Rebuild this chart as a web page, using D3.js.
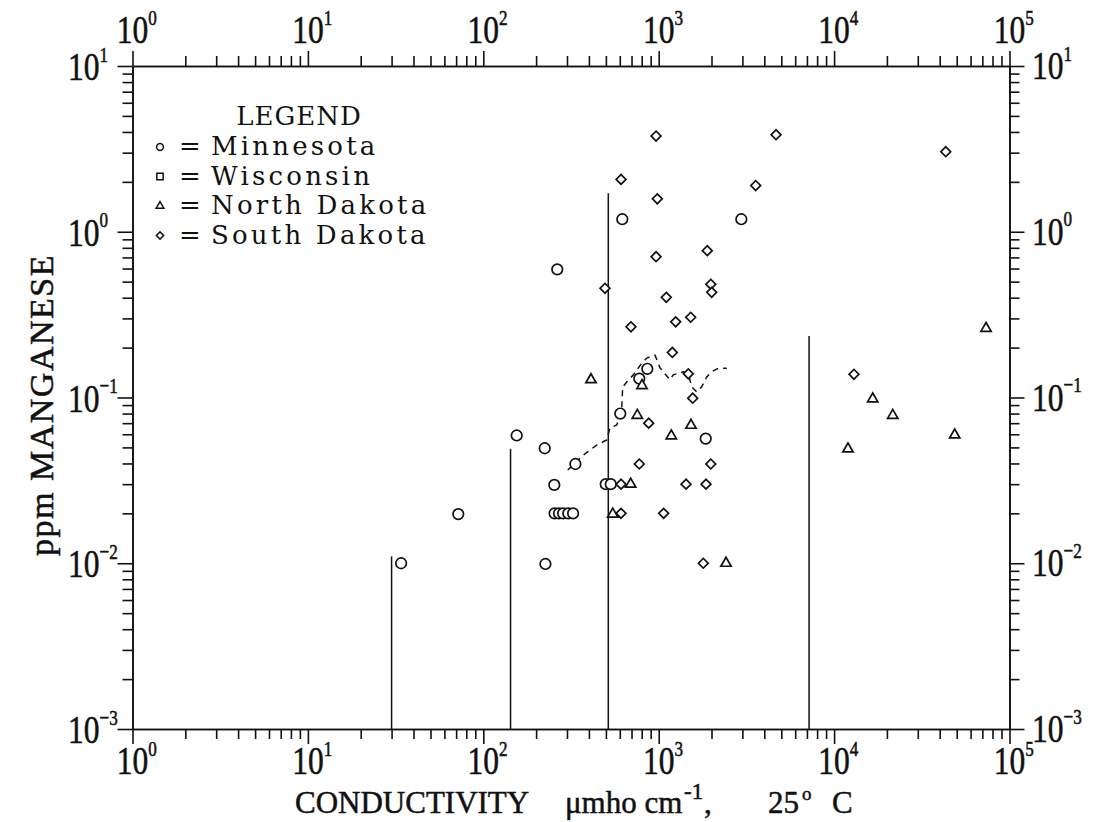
<!DOCTYPE html>
<html>
<head>
<meta charset="utf-8">
<script src="https://cdn.jsdelivr.net/npm/d3@7"></script>
<style>
  body { margin: 0; background: #fff; }
  svg { display: block; }
  .ax path, .ax line { stroke: #111; stroke-width: 1.6; }
</style>
</head>
<body>
<div id="chart"></div>
<script>
// conductivity (umho/cm) and manganese (ppm)
const minnesotaX = [620, 2958, 264, 861, 775, 604, 1854, 155, 224, 335, 254, 499, 533, 72, 255, 270, 285, 305, 325, 226, 34]
const minnesotaY = [1.19, 1.19, 0.593, 0.149, 0.130, 0.080, 0.0565, 0.059, 0.0494, 0.0397, 0.0297, 0.03, 0.03, 0.0198, 0.02, 0.02, 0.02, 0.02, 0.02, 0.0099, 0.01]

const wisconsinX = []
const wisconsinY = []

const northDakotaX = [411, 803, 755, 1528, 1180, 692, 547, 2419, 73500, 16600, 21600, 48700, 12000]
const northDakotaY = [0.128, 0.118, 0.078, 0.068, 0.0586, 0.03, 0.0198, 0.01, 0.261, 0.098, 0.078, 0.0594, 0.0489]

const southDakotaX = [966, 610, 3573, 982, 966, 1892, 494, 1982, 2005, 1105, 1522, 1250, 695, 1196, 1475, 1563, 877, 775, 1982, 610, 1432, 1861, 610, 1067, 1796, 4667, 43300, 12980]
const southDakotaY = [3.78, 2.07, 1.9, 1.58, 0.707, 0.769, 0.456, 0.482, 0.431, 0.402, 0.305, 0.286, 0.267, 0.187, 0.139, 0.099, 0.070, 0.0397, 0.0397, 0.03, 0.03, 0.03, 0.02, 0.02, 0.01, 3.85, 3.04, 0.138]

// dashed running curve
const dashX = [303, 372, 443, 505, 527, 576, 602, 615, 623, 657, 717, 800, 855, 953, 1017, 1159, 1211, 1381, 1475, 1542, 1648, 1759, 1879, 2005, 2188, 2442]
const dashY = [0.0365, 0.045, 0.0516, 0.0554, 0.0655, 0.0682, 0.0762, 0.0841, 0.1156, 0.124, 0.137, 0.161, 0.173, 0.180, 0.151, 0.128, 0.137, 0.143, 0.139, 0.116, 0.108, 0.116, 0.133, 0.143, 0.150, 0.150]

// vertical reference lines
const refX = [30, 143, 516, 7200]
const refTop = [0.011, 0.049, 1.71, 0.235]

const xDecades = [1, 10, 100, 1000, 10000, 100000]
const xExp = ["0", "1", "2", "3", "4", "5"]
const yDecades = [0.001, 0.01, 0.1, 1, 10]
const yExp = ["\u22123", "\u22122", "\u22121", "0", "1"]

const legendNames = ["Minnesota", "Wisconsin", "North Dakota", "South Dakota"]

const W = 1099, H = 822
const L = 132.5, R = 1009.5, T = 66, B = 729
const serif = "'Liberation Serif', 'Times New Roman', serif"

const svg = d3.select('#chart').append('svg').attr('width', W).attr('height', H)

const x = d3.scaleLog().domain([1, 1e5]).range([L, R])
const y = d3.scaleLog().domain([1e-3, 10]).range([B, T])

const minorOf = decades => {
  const out = []
  decades.slice(0, -1).forEach(d => { for (let k = 2; k <= 9; k++) out.push(d * k) })
  return out
}
const xMinor = minorOf(xDecades)
const yMinor = minorOf(yDecades)

const axes = [
  [d3.axisBottom(x), `translate(0,${B})`, xDecades, xMinor],
  [d3.axisTop(x), `translate(0,${T})`, xDecades, xMinor],
  [d3.axisLeft(y), `translate(${L},0)`, yDecades, yMinor],
  [d3.axisRight(y), `translate(${R},0)`, yDecades, yMinor]
]
axes.forEach(([ax, tr, major, minor]) => {
  svg.append('g').attr('class', 'ax').attr('transform', tr)
    .call(ax.tickValues(minor).tickSize(10).tickSizeOuter(0).tickFormat(''))
  svg.append('g').attr('class', 'ax').attr('transform', tr)
    .call(ax.tickValues(major).tickSize(15).tickSizeOuter(0).tickFormat(''))
})
svg.selectAll('.ax text').remove()

// tick labels with superscripts
const SX = 0.9, SY = 1.15
const ink = sel => sel.attr('font-family', serif).attr('fill', '#111')
  .attr('stroke', '#111').attr('stroke-width', 0.5)
const power = (g, exp, anchorMid) => {
  const t = ink(g.append('text'))
  if (anchorMid) {
    t.attr('text-anchor', 'middle').attr('font-size', 35).text('10')
    ink(g.append('text')).attr('x', 17.5).attr('y', -16).attr('font-size', 19).text(exp)
  } else {
    t.attr('font-size', 35).text('10')
    t.append('tspan').attr('dy', -16).attr('font-size', 19).text(exp)
  }
}
xDecades.forEach((v, i) => {
  power(svg.append('g').attr('transform', `translate(${x(v)},774) scale(${SX},${SY})`), xExp[i], true)
  power(svg.append('g').attr('transform', `translate(${x(v)},43) scale(${SX},${SY})`), xExp[i], true)
})
yDecades.forEach((v, i) => {
  power(svg.append('g').attr('transform', `translate(68,${y(v) + 14}) scale(${SX},${SY})`), yExp[i], false)
  power(svg.append('g').attr('transform', `translate(1032,${y(v) + 13}) scale(${SX},${SY})`), yExp[i], false)
})

// reference lines
svg.append('g').selectAll('line').data(refX).join('line')
  .attr('x1', d => x(d)).attr('x2', d => x(d))
  .attr('y1', (d, i) => y(refTop[i])).attr('y2', y(1e-3))
  .attr('stroke', '#111').attr('stroke-width', 1.5)

// dashed curve
const line = d3.line().x(d => x(d[0])).y(d => y(d[1]))
svg.append('path').datum(dashX.map((d, i) => [d, dashY[i]]))
  .attr('d', line).attr('fill', 'none').attr('stroke', '#111')
  .attr('stroke-width', 1.5).attr('stroke-dasharray', '6,5')

// markers
const series = [
  { xs: minnesotaX, ys: minnesotaY, type: d3.symbolCircle, size: 88, rot: 0, lsize: 36 },
  { xs: wisconsinX, ys: wisconsinY, type: d3.symbolSquare, size: 55, rot: 0, lsize: 40 },
  { xs: northDakotaX, ys: northDakotaY, type: d3.symbolTriangle, size: 46, rot: 0, lsize: 26 },
  { xs: southDakotaX, ys: southDakotaY, type: d3.symbolSquare, size: 48, rot: 45, lsize: 26 }
]
series.forEach(s => {
  svg.append('g').selectAll('path').data(s.xs.map((d, i) => [d, s.ys[i]])).join('path')
    .attr('d', d3.symbol().type(s.type).size(s.size))
    .attr('transform', d => `translate(${x(d[0])},${y(d[1])}) rotate(${s.rot})`)
    .attr('fill', '#fff').attr('stroke', '#111').attr('stroke-width', 1.7)
})

// legend
const lg = svg.append('g').attr('font-family', "'DejaVu Serif', serif").attr('fill', '#111')
lg.append('text').attr('x', 299).attr('y', 125).attr('text-anchor', 'middle')
  .attr('font-size', 26).attr('letter-spacing', 1).text('LEGEND')
legendNames.forEach((name, i) => {
  const by = 155 + i * 29.5
  lg.append('path').attr('d', d3.symbol().type(series[i].type).size(series[i].lsize))
    .attr('transform', `translate(160,${by - 8}) rotate(${series[i].rot})`)
    .attr('fill', '#fff').attr('stroke', '#111').attr('stroke-width', 1.5)
  lg.append('text').attr('x', 190).attr('y', by).attr('text-anchor', 'middle')
    .attr('font-size', 26).text('=')
  lg.append('text').attr('x', 211).attr('y', by).attr('font-size', 26)
    .attr('letter-spacing', 3.2).text(name)
})

// axis titles
const xt = ink(svg.append('text')).attr('y', 813).attr('font-size', 31)
xt.append('tspan').attr('x', 295).text('CONDUCTIVITY')
xt.append('tspan').attr('x', 565).text('\u03bcmho cm')
xt.append('tspan').attr('x', 684).attr('dy', -14).attr('font-size', 23).text('-1')
xt.append('tspan').attr('x', 704).attr('dy', 14).text(',')
xt.append('tspan').attr('x', 768).text('25')
xt.append('tspan').attr('x', 802).attr('dy', -13).attr('font-size', 19).text('o')
xt.append('tspan').attr('x', 832).attr('dy', 13).text('C')

ink(svg.append('text')).attr('transform', 'translate(53,405) rotate(-90)')
  .attr('text-anchor', 'middle').attr('font-size', 34)
  .attr('letter-spacing', 1.5).text('ppm MANGANESE')
</script>
</body>
</html>
